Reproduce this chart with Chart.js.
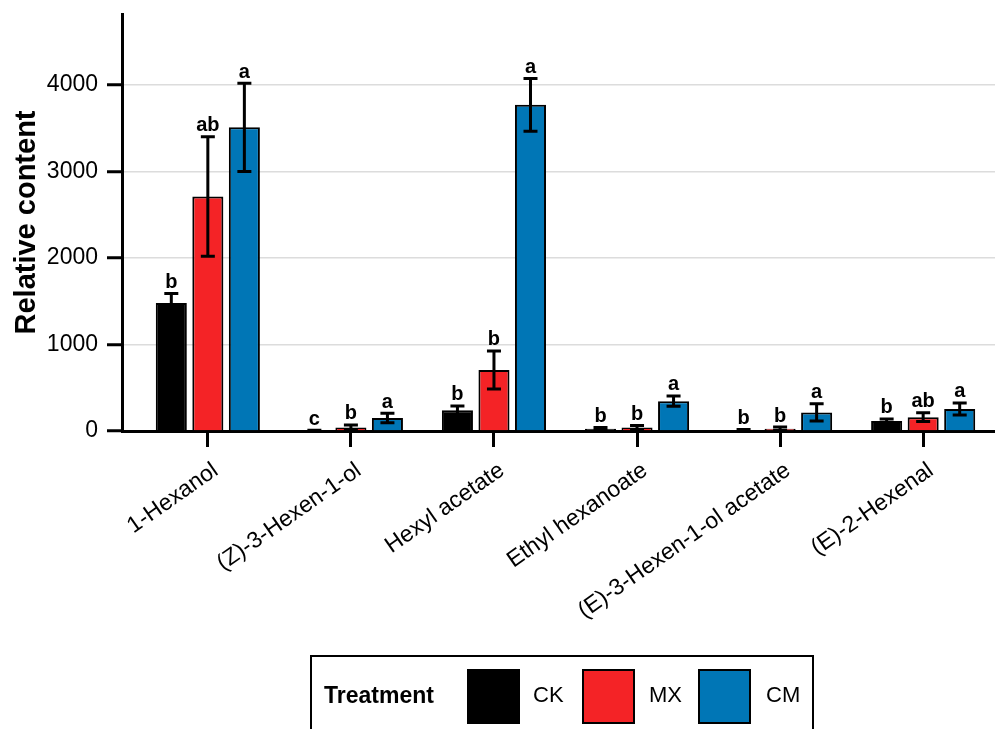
<!DOCTYPE html>
<html>
<head>
<meta charset="utf-8">
<script src="https://cdn.jsdelivr.net/npm/chart.js@4.4.0/dist/chart.umd.min.js"></script>
<style>
  html, body { margin: 0; padding: 0; background: #fff; overflow: hidden; }
  #wrap { position: relative; width: 995px; height: 729px; overflow: hidden; }
  #chart { position: absolute; left: 0; top: 0; }
  #legend {
    position: absolute; left: 310px; top: 655px; width: 500px; height: 90px;
    border: 2px solid #000; font-family: "Liberation Sans", Arial, sans-serif;
  }
  #legend .title { position: absolute; left: 12px; top: 25px; font-size: 23px; font-weight: bold; }
  #legend .sw { position: absolute; top: 12px; width: 49px; height: 51px; border: 2px solid #000; }
  #legend .lab { position: absolute; top: 25px; font-size: 22px; }
</style>
</head>
<body>
<div id="wrap">
  <canvas id="chart" width="1009" height="729"></canvas>
  <div id="legend">
    <span class="title">Treatment</span>
    <div class="sw" style="left:155px;background:#000"></div><span class="lab" style="left:221px">CK</span>
    <div class="sw" style="left:270px;background:#f42326"></div><span class="lab" style="left:337px">MX</span>
    <div class="sw" style="left:386px;background:#0076b6"></div><span class="lab" style="left:454px">CM</span>
  </div>
</div>
<script>
const compounds = ["1-Hexanol", "(Z)-3-Hexen-1-ol", "Hexyl acetate", "Ethyl hexanoate", "(E)-3-Hexen-1-ol acetate", "(E)-2-Hexenal"];
const treatments = ["CK", "MX", "CM"];
const colors = ["#000000", "#f42326", "#0076b6"];

const ckMean = [1480, 5, 240, 25, 10, 115];
const ckErr = [110, 3, 50, 15, 8, 25];
const ckSig = ["b", "c", "b", "b", "b", "b"];

const mxMean = [2710, 40, 705, 40, 25, 160];
const mxErr = [690, 30, 220, 25, 20, 50];
const mxSig = ["ab", "b", "b", "b", "b", "ab"];

const cmMean = [3510, 150, 3770, 345, 215, 255];
const cmErr = [510, 55, 305, 60, 100, 70];
const cmSig = ["a", "a", "a", "a", "a", "a"];

const yTicks = [0, 1000, 2000, 3000, 4000];

const means = [ckMean, mxMean, cmMean];
const errs = [ckErr, mxErr, cmErr];
const sigs = [ckSig, mxSig, cmSig];
const FONT = "'Liberation Sans', Arial, sans-serif";

// error bars + letters on top of the bars
const errorBars = {
  id: "errorBars",
  afterDatasetsDraw(chart) {
    const ctx = chart.ctx;
    const y = chart.scales.y;
    ctx.save();
    chart.data.datasets.forEach((ds, i) => {
      const meta = chart.getDatasetMeta(i);
      meta.data.forEach((bar, j) => {
        const m = means[i][j], e = errs[i][j];
        const top = y.getPixelForValue(m + e);
        const bot = y.getPixelForValue(Math.max(m - e, 0));
        ctx.strokeStyle = "#000";
        ctx.lineWidth = 3;
        ctx.beginPath();
        ctx.moveTo(bar.x, top); ctx.lineTo(bar.x, bot);
        ctx.moveTo(bar.x - 7, top); ctx.lineTo(bar.x + 7, top);
        ctx.moveTo(bar.x - 7, bot); ctx.lineTo(bar.x + 7, bot);
        ctx.stroke();
        ctx.fillStyle = "#000";
        ctx.font = "bold 20px " + FONT;
        ctx.textAlign = "center";
        ctx.textBaseline = "bottom";
        ctx.fillText(sigs[i][j], bar.x, top - 1);
      });
    });
    ctx.restore();
  }
};

new Chart(document.getElementById("chart"), {
  type: "bar",
  data: {
    datasets: treatments.map((t, i) => ({
      label: t,
      data: means[i].map((v, j) => ({ x: j, y: v })),
      backgroundColor: colors[i],
      borderColor: "#000",
      borderWidth: 2,
      categoryPercentage: 0.766,
      barPercentage: 0.85
    }))
  },
  options: {
    responsive: false,
    animation: false,
    layout: { padding: { top: 14, left: 0, right: 0, bottom: 0 } },
    plugins: { legend: { display: false }, tooltip: { enabled: false } },
    scales: {
      x: {
        type: "linear",
        min: -0.6, max: 5.6,
        offset: false,
        afterFit(scale) { scale.height = 298; scale.paddingLeft = 0; scale.paddingRight = 0; },
        afterBuildTicks(scale) { scale.ticks = compounds.map((c, j) => ({ value: j })); },
        border: { color: "#000", width: 3 },
        grid: { offset: false, drawOnChartArea: false, tickLength: 16, tickColor: "#000", tickWidth: 3 },
        ticks: {
          color: "#000", minRotation: 35, maxRotation: 35, padding: 10, labelOffset: 8, autoSkip: false,
          callback: (v) => compounds[v],
          font: { family: FONT, size: 23 }
        }
      },
      y: {
        min: 0, max: 4820,
        afterFit(scale) { scale.width = 122; scale.paddingTop = 0; scale.paddingBottom = 0; },
        afterBuildTicks(scale) { scale.ticks = yTicks.map(v => ({ value: v })); },
        border: { color: "#000", width: 3 },
        grid: { color: "#dcdcdc", lineWidth: 1.5, tickLength: 15, tickColor: "#000", tickWidth: 3 },
        ticks: {
          color: "#000", padding: 9,
          callback: (v) => String(v),
          font: { family: FONT, size: 23 }
        },
        title: {
          display: true, text: "Relative content", color: "#000",
          font: { family: FONT, size: 29, weight: "bold" },
          padding: { top: 10, bottom: 0 }
        }
      }
    }
  },
  plugins: [errorBars]
});
</script>
</body>
</html>
